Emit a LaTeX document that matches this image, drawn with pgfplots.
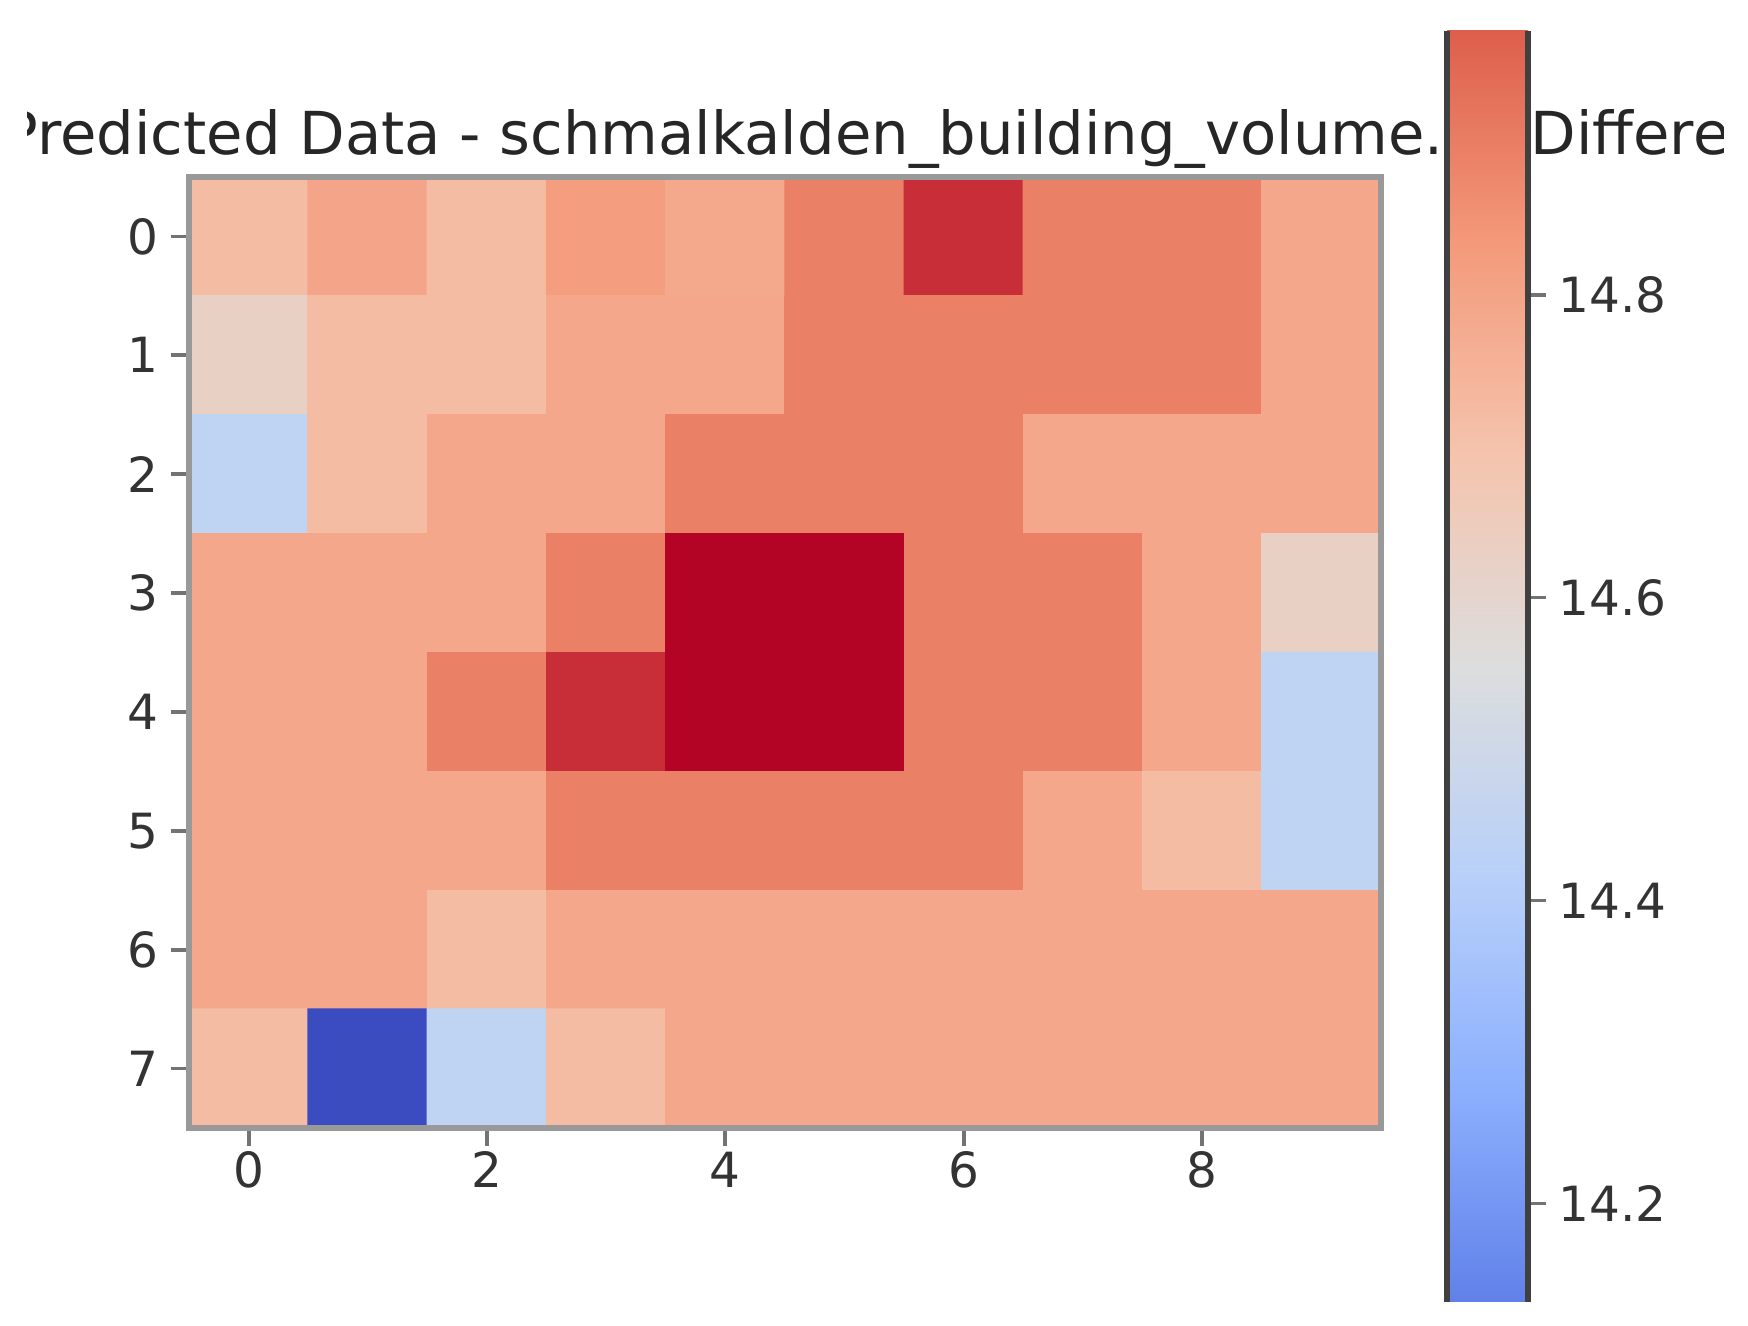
\documentclass[border=0pt]{standalone}
\usepackage{fontspec}
\setmainfont{DejaVu Sans}
\usepackage{pgfplots}
\pgfplotsset{compat=1.18}

\pgfplotsset{
  colormap={coolwarm}{rgb255=(59,76,192) rgb255=(98,130,234) rgb255=(141,176,254)
    rgb255=(184,208,249) rgb255=(221,221,221) rgb255=(245,196,173)
    rgb255=(244,154,123) rgb255=(222,96,77) rgb255=(180,4,38)},
}

\begin{document}
\begin{tikzpicture}
\useasboundingbox (0,0) rectangle (17.48,13.26);

% titles, cut at the edges as in the source figure
\begin{scope}
  \clip (0.28,0) rectangle (17.23,13.26);
  \node[anchor=base west, inner sep=0, text=black!85,
        font=\fontsize{16.85}{20}\selectfont] at (0.02,11.71)
        {Predicted Data - schmalkalden\_building\_volume.tif};
  \node[anchor=base west, inner sep=0, text=black!85,
        font=\fontsize{16.85}{20}\selectfont] at (15.30,11.71) {Difference};
\end{scope}

\begin{axis}[
    at={(1.89cm,1.98cm)}, anchor=south west,
    scale only axis, width=11.92cm, height=9.51cm,
    xmin=-0.5, xmax=9.5, ymin=-0.5, ymax=7.5,
    y dir=reverse,
    xtick={0,2,4,6,8}, ytick={0,1,...,7},
    xtick pos=left, ytick pos=left,
    tick align=outside, major tick length=0.18cm,
    major tick style={black!55, line width=1.1pt},
    axis line style={black!40, line width=1.5pt},
    axis on top,
    ticklabel style={font=\fontsize{13.8}{16}\selectfont, text=black!80},
    /pgf/number format/assume math mode=true,
    xticklabel style={inner sep=1.5pt},
    colormap name=coolwarm,
    point meta min=14.0, point meta max=15.11,
    colorbar,
    colorbar/width=0.81cm,
    colorbar style={
      at={(parent axis.north east)}, anchor=north west,
      xshift=0.36cm, yshift=1.46cm,
      height=12.71cm,
      ymin=14.135, ymax=14.974,
      ytick={14.2,14.4,14.6,14.8},
      yticklabel pos=right, ytick pos=right,
      tick align=outside, major tick length=0.18cm,
      major tick style={black!55, line width=1.1pt},
      axis x line=none,
      axis line style={black!75, line width=1.7pt},
      yticklabel style={font=\fontsize{13.8}{16}\selectfont, text=black!80,
        /pgf/number format/fixed, /pgf/number format/precision=1},
      /pgf/number format/assume math mode=true,
    },
  ]
  \addplot[matrix plot*, mesh/cols=10, point meta=explicit] table[meta=c] {
x y c
0 0 14.720
1 0 14.795
2 0 14.720
3 0 14.823
4 0 14.785
5 0 14.895
6 0 15.047
7 0 14.895
8 0 14.895
9 0 14.789
0 1 14.627
1 1 14.720
2 1 14.720
3 1 14.789
4 1 14.789
5 1 14.895
6 1 14.895
7 1 14.895
8 1 14.895
9 1 14.789
0 2 14.444
1 2 14.720
2 2 14.789
3 2 14.789
4 2 14.895
5 2 14.895
6 2 14.895
7 2 14.789
8 2 14.789
9 2 14.789
0 3 14.789
1 3 14.789
2 3 14.789
3 3 14.895
4 3 15.110
5 3 15.110
6 3 14.895
7 3 14.895
8 3 14.789
9 3 14.627
0 4 14.789
1 4 14.789
2 4 14.895
3 4 15.047
4 4 15.110
5 4 15.110
6 4 14.895
7 4 14.895
8 4 14.789
9 4 14.444
0 5 14.789
1 5 14.789
2 5 14.789
3 5 14.895
4 5 14.895
5 5 14.895
6 5 14.895
7 5 14.789
8 5 14.720
9 5 14.444
0 6 14.789
1 6 14.789
2 6 14.720
3 6 14.789
4 6 14.789
5 6 14.789
6 6 14.789
7 6 14.789
8 6 14.789
9 6 14.789
0 7 14.720
1 7 14.000
2 7 14.444
3 7 14.720
4 7 14.789
5 7 14.789
6 7 14.789
7 7 14.789
8 7 14.789
9 7 14.789
  };
\end{axis}
\end{tikzpicture}
\end{document}
